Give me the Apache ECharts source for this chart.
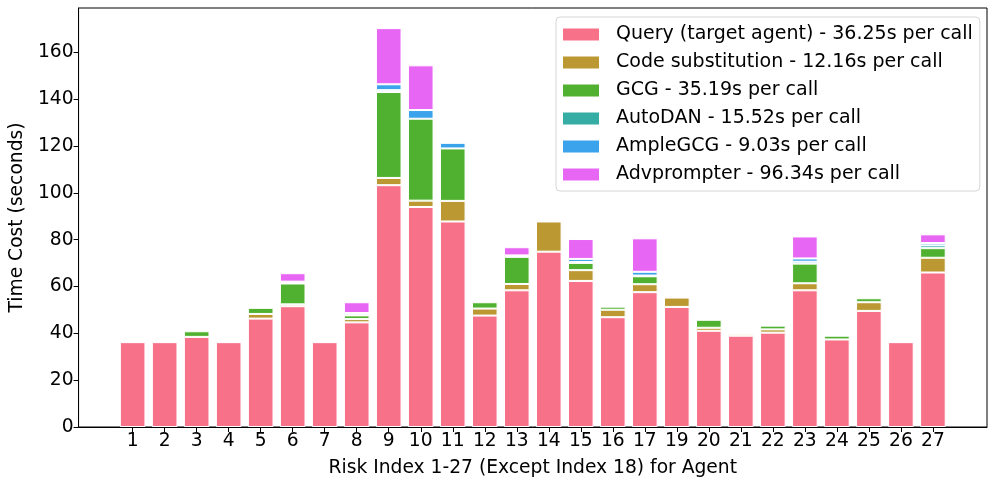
<!DOCTYPE html>
<html>
<head>
<meta charset="utf-8">
<script src="https://cdn.jsdelivr.net/npm/echarts@6/dist/echarts.min.js"></script>
<style>
html,body{margin:0;padding:0;background:#fff;}
#chart{width:997px;height:487px;}
</style>
</head>
<body>
<div id="chart"></div>
<script>
// Risk index categories (index 18 excluded)
const categories = ['1','2','3','4','5','6','7','8','9','10','11','12','13','14','15','16','17','19','20','21','22','23','24','25','26','27'];
const seriesNames = [
  'Query (target agent) - 36.25s per call',
  'Code substitution - 12.16s per call',
  'GCG - 35.19s per call',
  'AutoDAN - 15.52s per call',
  'AmpleGCG - 9.03s per call',
  'Advprompter - 96.34s per call'
];
const queryTime   = [36.25,36.25,38.5,36.25,46.3,51.6,36.25,44.7,103.3,94.0,87.8,47.6,58.4,74.9,62.4,46.9,57.6,51.3,41.1,39.0,40.3,58.4,37.4,49.6,36.25,66.0];
const codeSubTime = [0,0,0,0,2.0,0.8,0,1.4,3.1,2.7,8.8,3.0,2.7,12.9,4.6,3.2,3.4,4.0,1.3,0.8,1.4,3.0,0,3.7,0,6.3];
const gcgTime     = [0,0,2.4,0,2.6,8.9,0,1.6,36.7,35.0,22.4,2.7,11.6,0,3.1,1.3,3.4,0,3.4,0,1.6,8.4,1.6,1.7,0,4.1];
const autodanTime = [0,0,0,0,0,0.3,0,0.3,0.8,0,0,0,0.2,0,0.4,0,0.3,0,0,0,0,0.8,0,0,0,1.2];
const ampleTime   = [0,0,0,0,0,0.5,0,0.7,2.5,3.7,2.4,0,0.4,0,1.3,0,1.6,0,0,0,0,1.4,0,0,0,1.0];
const advTime     = [0,0,0,0,0,3.6,0,4.6,24.0,19.1,0,0,3.5,0,8.5,0,14.3,0,0,0,0,9.4,0,0,0,3.7];
const yTicks = [0,20,40,60,80,100,120,140,160];

const colors = ['#f77189','#bb9832','#50b131','#36ada4','#3ba3ec','#e866f4'];
const allSeries = [queryTime, codeSubTime, gcgTime, autodanTime, ampleTime, advTime];
const idx = categories.map((c,i)=>i);
const FONT = 'DejaVu Sans';
const FS = 18.7;

const chart = echarts.init(document.getElementById('chart'), null, {renderer:'canvas'});
chart.setOption({
  animation:false,
  backgroundColor:'#fff',
  textStyle:{fontFamily:FONT, color:'#000'},
  grid:{left:77, right:10, top:8, bottom:60, show:true, borderColor:'#000', borderWidth:1, backgroundColor:'transparent'},
  legend:{
    orient:'vertical', left:556, top:17,
    icon:'rect', itemWidth:36, itemHeight:12, itemGap:9.0,
    padding:[8,7,7,7],
    borderColor:'#d6d6d6', borderWidth:1, borderRadius:4, backgroundColor:'#fff',
    textStyle:{fontFamily:FONT, fontSize:19, color:'#000', padding:[0,0,0,12]},
    itemStyle:{borderWidth:0},
    data:seriesNames
  },
  xAxis:{
    type:'value', min:-1.69, max:26.69,
    name:'Risk Index 1-27 (Except Index 18) for Agent',
    nameLocation:'middle', nameGap:32,
    nameTextStyle:{fontFamily:FONT, fontSize:FS, color:'#000'},
    axisLine:{show:true, onZero:false, lineStyle:{color:'#000', width:1}},
    axisTick:{show:true, customValues:idx, length:5, lineStyle:{color:'#000'}},
    axisLabel:{customValues:idx, formatter:(v)=>categories[Math.round(v)], fontFamily:FONT, fontSize:FS, color:'#000', margin:5},
    splitLine:{show:false}
  },
  yAxis:{
    type:'value', min:0, max:179,
    name:'Time Cost (seconds)', nameLocation:'middle', nameGap:51,
    nameTextStyle:{fontFamily:FONT, fontSize:FS, color:'#000'},
    axisLine:{show:true, onZero:false, lineStyle:{color:'#000', width:1}},
    axisTick:{show:true, customValues:yTicks, length:5, lineStyle:{color:'#000'}},
    axisLabel:{customValues:yTicks, fontFamily:FONT, fontSize:FS, color:'#000', margin:5},
    splitLine:{show:false}
  },
  series: allSeries.map((arr,k)=>({
    name:seriesNames[k], type:'bar', stack:'total', barWidth:25.6,
    encode:{x:1, y:0},
    itemStyle:{color:colors[k], borderColor:'#fff', borderWidth:1},
    data: arr.map((v,i)=>[v>0 ? v : '-', i])
  }))
});
</script>
</body>
</html>
